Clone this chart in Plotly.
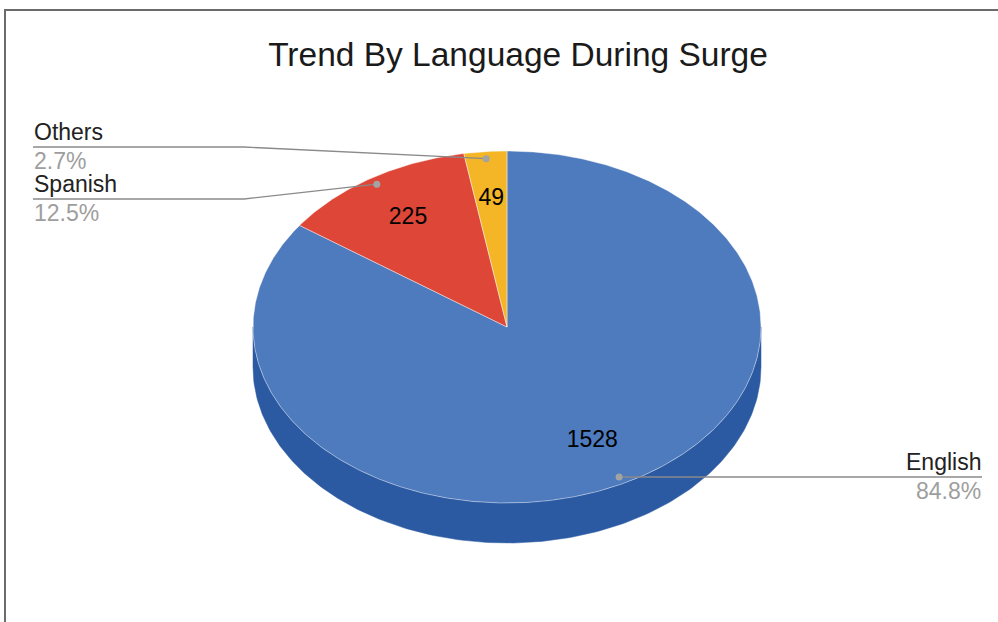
import numpy as np
import plotly.graph_objects as go

# ---- data ----
labels = ["English", "Spanish", "Others"]
values = [1528, 225, 49]
title_text = "Trend By Language During Surge"

# ---- style ----
colors_top = ["#4e7abe", "#de4637", "#f4b526"]
colors_side = ["#2b5aa2", "#b33124", "#c58f12"]
FONT = "Liberation Sans, Arial, sans-serif"

# ---- geometry (pixel-space layout, window coordinates) ----
W, H = 998, 622
CX, CY = 507, 327
RX, RY = 254, 176
DEPTH = 40
LEFT_X = 33
RIGHT_X = 982
ELBOW_X = 244
LEFT_LINE_Y0 = 147
LEFT_SPACING = 52

total = float(sum(values))
fracs = [v / total for v in values]
starts = np.concatenate([[0.0], np.cumsum(fracs)[:-1]]) * 360.0
ends = starts + np.array(fracs) * 360.0
mids = (starts + ends) / 2.0


def pt(theta, r=1.0, dy=0.0):
    t = np.radians(theta)
    return CX + r * RX * np.sin(t), CY - r * RY * np.cos(t) + dy


fig = go.Figure()

# side walls (front half: 90..270 deg clockwise from top)
for i in range(len(values)):
    a = max(starts[i], 90.0)
    b = min(ends[i], 270.0)
    if b <= a:
        continue
    th = np.linspace(a, b, 200)
    xt, yt = pt(th)
    xb, yb = pt(th[::-1], dy=DEPTH)
    xs = np.concatenate([xt, xb, xt[:1]])
    ys = np.concatenate([yt, yb, yt[:1]])
    fig.add_trace(go.Scatter(x=xs, y=ys, mode="lines", fill="toself",
                             fillcolor=colors_side[i],
                             line=dict(color=colors_side[i], width=0.5),
                             hoverinfo="skip", showlegend=False))

# top faces
for i in range(len(values)):
    th = np.linspace(starts[i], ends[i], max(int((ends[i] - starts[i]) * 2), 20))
    xa, ya = pt(th)
    xs = np.concatenate([[CX], xa, [CX]])
    ys = np.concatenate([[CY], ya, [CY]])
    fig.add_trace(go.Scatter(x=xs, y=ys, mode="lines", fill="toself",
                             fillcolor=colors_top[i],
                             line=dict(color="rgba(255,255,255,0.55)", width=0.8),
                             hoverinfo="skip", showlegend=False))

# value labels
lx, ly = pt(mids, 0.73)
fig.add_trace(go.Scatter(x=lx, y=ly, mode="text", text=[str(v) for v in values],
                         textfont=dict(family=FONT, size=23, color="#000000"),
                         hoverinfo="skip", showlegend=False))

# leader lines & labels
dx, dy = pt(mids, 0.96)
left_idx = sorted([i for i in range(len(values)) if mids[i] >= 180], key=lambda i: -mids[i])
annotations = []
for i in range(len(values)):
    pct = f"{fracs[i] * 100:.1f}%"
    if mids[i] < 180:
        line_y = dy[i]
        xs = [dx[i], RIGHT_X]
        ys = [dy[i], line_y]
        tx, xanchor = RIGHT_X, "right"
    else:
        k = left_idx.index(i)
        line_y = LEFT_LINE_Y0 + k * LEFT_SPACING
        xs = [dx[i], ELBOW_X, LEFT_X]
        ys = [dy[i], line_y, line_y]
        tx, xanchor = LEFT_X, "left"
    fig.add_trace(go.Scatter(x=xs, y=ys, mode="lines",
                             line=dict(color="#8a8a8a", width=1.4),
                             hoverinfo="skip", showlegend=False))
    annotations.append(dict(x=tx, y=line_y - 15, text=labels[i], showarrow=False,
                            xanchor=xanchor, yanchor="middle", xref="x", yref="y",
                            borderpad=0,
                            font=dict(family=FONT, size=23, color="#222222")))
    annotations.append(dict(x=tx, y=line_y + 14, text=pct, showarrow=False,
                            xanchor=xanchor, yanchor="middle", xref="x", yref="y",
                            borderpad=0,
                            font=dict(family=FONT, size=23, color="#9e9e9e")))

fig.add_trace(go.Scatter(x=dx, y=dy, mode="markers",
                         marker=dict(color="#a3a3a3", size=7),
                         hoverinfo="skip", showlegend=False))

fig.update_layout(
    width=W, height=H,
    margin=dict(l=0, r=0, t=0, b=0),
    paper_bgcolor="white", plot_bgcolor="white",
    hovermode=False,
    xaxis=dict(range=[0, W], visible=False, fixedrange=True),
    yaxis=dict(range=[H, 0], visible=False, fixedrange=True),
    title=dict(text=title_text, x=518 / W, y=1 - 54 / H,
               xanchor="center", yanchor="middle",
               font=dict(family=FONT, size=33.5, color="#1a1a1a")),
    annotations=annotations,
    shapes=[dict(type="rect", xref="x", yref="y", x0=5, y0=10, x1=W + 50, y1=H + 50,
                 line=dict(color="#6b6b6b", width=2), fillcolor="rgba(0,0,0,0)", layer="above")],
)

fig.write_html("out.html", config={"displayModeBar": False, "staticPlot": True},
               post_script="document.body.style.margin='0';document.body.style.overflow='hidden';")
